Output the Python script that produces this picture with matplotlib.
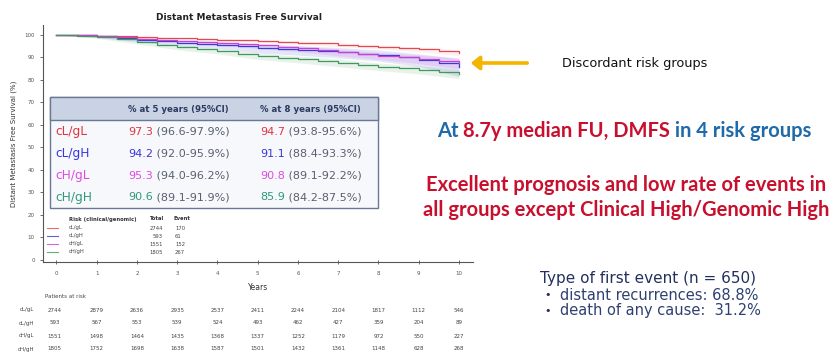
import matplotlib
matplotlib.use("Agg")
import matplotlib.pyplot as plt
from matplotlib.patches import Rectangle, FancyArrowPatch
from matplotlib.text import Annotation
from matplotlib.lines import Line2D

# ---------------- data ----------------
groups = ["cL/gL", "cL/gH", "cH/gL", "cH/gH"]
line_colors = ["#e5484d", "#3a3ad4", "#c941d2", "#3f9a5c"]
text_colors = ["#e0353c", "#3b35dc", "#e04ae0", "#2f9a78"]

years_half = [0, 0.5, 1, 1.5, 2, 2.5, 3, 3.5, 4, 4.5, 5, 5.5, 6, 6.5, 7, 7.5, 8, 8.5, 9, 9.5, 10]
surv_cLgL = [100, 99.9, 99.6, 99.4, 99.1, 98.8, 98.5, 98.2, 97.9, 97.6, 97.3, 97.0, 96.6, 96.2, 95.7, 95.2, 94.7, 94.2, 93.6, 93.0, 92.0]
surv_cLgH = [100, 99.8, 99.4, 98.7, 97.9, 97.2, 96.6, 96.1, 95.6, 94.9, 94.2, 93.8, 93.3, 92.8, 92.3, 91.7, 91.1, 90.2, 89.0, 87.6, 85.8]
surv_cHgL = [100, 99.8, 99.4, 98.9, 98.3, 97.8, 97.3, 96.9, 96.4, 95.8, 95.3, 94.7, 94.0, 93.2, 92.3, 91.5, 90.8, 90.1, 89.3, 88.5, 87.6]
surv_cHgH = [100, 99.7, 99.1, 98.0, 96.8, 95.6, 94.5, 93.6, 92.8, 91.7, 90.6, 89.9, 89.2, 88.5, 87.7, 86.8, 85.9, 85.2, 84.5, 83.7, 82.7]

years = [0, 1, 2, 3, 4, 5, 6, 7, 8, 9, 10]
ci_lo_cLgL = [100, 99.4, 98.7, 98.1, 97.4, 96.6, 95.8, 94.8, 93.8, 92.5, 90.8]
ci_hi_cLgL = [100, 99.8, 99.3, 98.9, 98.4, 97.9, 97.3, 96.6, 95.6, 94.6, 93.2]
ci_lo_cLgH = [100, 98.9, 97.0, 95.2, 94.0, 92.0, 91.0, 89.8, 88.4, 86.0, 81.5]
ci_hi_cLgH = [100, 99.7, 98.8, 97.6, 96.9, 95.9, 95.2, 94.4, 93.3, 91.6, 89.5]
ci_lo_cHgL = [100, 98.9, 97.5, 96.4, 95.3, 94.0, 92.6, 90.7, 89.1, 87.2, 85.0]
ci_hi_cHgL = [100, 99.8, 99.0, 98.1, 97.3, 96.2, 95.2, 93.7, 92.2, 91.1, 89.8]
ci_lo_cHgH = [100, 98.5, 96.0, 93.4, 91.6, 89.1, 87.6, 85.9, 84.2, 82.7, 80.6]
ci_hi_cHgH = [100, 99.4, 97.6, 95.5, 94.0, 91.9, 90.6, 89.3, 87.5, 86.3, 84.6]

rate_5y = ["97.3", "94.2", "95.3", "90.6"]
ci_5y = ["(96.6-97.9%)", "(92.0-95.9%)", "(94.0-96.2%)", "(89.1-91.9%)"]
rate_8y = ["94.7", "91.1", "90.8", "85.9"]
ci_8y = ["(93.8-95.6%)", "(88.4-93.3%)", "(89.1-92.2%)", "(84.2-87.5%)"]

totals = [2744, 593, 1551, 1805]
events = [170, 61, 152, 267]

at_risk_cLgL = [2744, 2879, 2636, 2935, 2537, 2411, 2244, 2104, 1817, 1112, 546]
at_risk_cLgH = [593, 567, 553, 539, 524, 493, 462, 427, 359, 204, 89]
at_risk_cHgL = [1551, 1498, 1464, 1435, 1368, 1337, 1252, 1179, 972, 550, 227]
at_risk_cHgH = [1805, 1752, 1698, 1638, 1587, 1501, 1432, 1361, 1148, 628, 268]

survs = [surv_cLgL, surv_cLgH, surv_cHgL, surv_cHgH]
ci_lo = [ci_lo_cLgL, ci_lo_cLgH, ci_lo_cHgL, ci_lo_cHgH]
ci_hi = [ci_hi_cLgL, ci_hi_cLgH, ci_hi_cHgL, ci_hi_cHgH]
at_risk = [at_risk_cLgL, at_risk_cLgH, at_risk_cHgL, at_risk_cHgH]
band_alpha = [0.08, 0.13, 0.13, 0.12]

# ---------------- figure ----------------
W, H = 833, 353
plt.rcParams["font.family"] = ["DejaVu Sans"]
fig = plt.figure(figsize=(W / 100, H / 100), dpi=100)
fig.patch.set_facecolor("white")


def fx(p):
    return p / W


def fy(p):
    return 1 - p / H


ax = fig.add_axes([fx(43), fy(262), fx(473) - fx(43), fy(25) - fy(262)])
ax.set_xlim(-0.335, 10.35)
ax.set_ylim(-0.9, 104.4)

for lo, hi, c, a in zip(ci_lo, ci_hi, line_colors, band_alpha):
    ax.fill_between(years, lo, hi, color=c, alpha=a, lw=0)
for s, c in zip(survs, line_colors):
    ax.step(years_half, s, where="post", color=c, lw=0.9)

for side in ("top", "right"):
    ax.spines[side].set_visible(False)
for side in ("left", "bottom"):
    ax.spines[side].set_color("#555555")
    ax.spines[side].set_linewidth(0.8)
ax.set_xticks(years)
ax.set_yticks(range(0, 101, 10))
ax.tick_params(axis="both", labelsize=4, colors="#555555", length=2.5, width=0.6)
ax.tick_params(axis="x", direction="inout", pad=5)
ax.set_xlabel("Years", fontsize=5.5, color="#333333", labelpad=5)
ax.set_ylabel("Distant Metastasis Free Survival (%)", fontsize=5, color="#333333", labelpad=5)

fig.text(fx(239), fy(17), "Distant Metastasis Free Survival", ha="center", va="center",
         fontsize=6.5, fontweight="bold", color="#222222")

# in-plot legend with totals and events
fig.text(fx(69), fy(219), "Risk (clinical/genomic)", fontsize=3.8, fontweight="bold",
         ha="left", va="center", color="#333333")
fig.text(fx(163), fy(219), "Total", fontsize=3.8, fontweight="bold", ha="right", va="center", color="#333333")
fig.text(fx(173), fy(219), "Event", fontsize=3.8, fontweight="bold", ha="left", va="center", color="#333333")
for i, (g, c) in enumerate(zip(groups, line_colors)):
    yy = 228 + i * 8
    fig.add_artist(Line2D([fx(47), fx(58)], [fy(yy), fy(yy)], color=c, lw=0.8, alpha=0.8))
    fig.text(fx(69), fy(yy), g, fontsize=3.8, ha="left", va="center", color="#444444")
    fig.text(fx(163), fy(yy), str(totals[i]), fontsize=3.8, ha="right", va="center", color="#444444")
    fig.text(fx(175), fy(yy), str(events[i]), fontsize=3.8, ha="left", va="center", color="#444444")

# summary table over the plot
fig.add_artist(Rectangle((fx(50), fy(208)), fx(378) - fx(50), fy(97) - fy(208),
                         transform=fig.transFigure, facecolor="#f6f8fc", edgecolor="#6a7895", lw=1.0))
fig.add_artist(Rectangle((fx(50), fy(120)), fx(378) - fx(50), fy(97) - fy(120),
                         transform=fig.transFigure, facecolor="#c9d3e3", edgecolor="#6a7895", lw=1.0))
fig.text(fx(128), fy(109), "% at 5 years (95%CI)", fontsize=6.2, fontweight="bold",
         ha="left", va="center", color="#2b3a63")
fig.text(fx(260), fy(109), "% at 8 years (95%CI)", fontsize=6.2, fontweight="bold",
         ha="left", va="center", color="#2b3a63")


def chain(x, y, parts, **kw):
    first, col = parts[0]
    prev = fig.text(fx(x), fy(y), first, color=col, ha="left", va="center", **kw)
    for s, c in parts[1:]:
        a = Annotation(s, xy=(1, 0), xycoords=prev, ha="left", va="bottom", color=c, **kw)
        fig.add_artist(a)
        prev = a
    return prev


row_y = [132, 154, 176, 197]
for i in range(4):
    fig.text(fx(55), fy(row_y[i]), groups[i], fontsize=8.7, color=text_colors[i], ha="left", va="center")
    chain(128, row_y[i], [(rate_5y[i], text_colors[i]), (" " + ci_5y[i], "#5a6070")], fontsize=8)
    chain(260, row_y[i], [(rate_8y[i], text_colors[i]), (" " + ci_8y[i], "#5a6070")], fontsize=8)

# patients at risk
fig.text(fx(45), fy(297), "Patients at risk", fontsize=4, ha="left", va="center", color="#444444")
risk_y = [310, 323, 336, 349]
for i in range(4):
    fig.text(fx(34), fy(risk_y[i]), groups[i], fontsize=4, ha="right", va="center", color="#444444")
    for t, n in zip(years, at_risk[i]):
        xp = ax.transData.transform((t, 0))[0]
        fig.text(xp / fig.dpi / fig.get_figwidth() - (0.0025 if t == 0 else 0), fy(risk_y[i]), str(n),
                 fontsize=4, ha="center", va="center", color="#444444")

# annotations on the right
fig.add_artist(FancyArrowPatch((fx(530), fy(63)), (fx(468), fy(63)), transform=fig.transFigure,
                               arrowstyle="-|>,head_length=5,head_width=4", mutation_scale=1,
                               color="#f4b400", lw=2.6))
fig.text(fx(562), fy(63), "Discordant risk groups", fontsize=9.3, ha="left", va="center", color="#111111")

blue_txt = "#1f6aa8"
red_txt = "#c8102e"
big = dict(fontsize=14.5, fontweight="bold", family=["Lato", "DejaVu Sans"])
chain(437, 131, [("At ", blue_txt), ("8.7y median FU, DMFS", red_txt), (" in 4 risk groups", blue_txt)], **big)
fig.text(fx(626), fy(185), "Excellent prognosis and low rate of events in", color=red_txt,
         ha="center", va="center", **big)
fig.text(fx(626), fy(210), "all groups except Clinical High/Genomic High", color=red_txt,
         ha="center", va="center", **big)

navy = "#22305e"
fig.text(fx(540), fy(278), "Type of first event (n = 650)", fontsize=11, color=navy, ha="left", va="center")
fig.text(fx(544), fy(295), "\u2022", fontsize=8, color=navy, ha="left", va="center")
fig.text(fx(560), fy(295), "distant recurrences: 68.8%", fontsize=10.5, color="#2e4170", ha="left", va="center")
fig.text(fx(544), fy(311), "\u2022", fontsize=8, color=navy, ha="left", va="center")
fig.text(fx(560), fy(311), "death of any cause:  31.2%", fontsize=10.5, color="#2e4170", ha="left", va="center")

fig.savefig("out.png", dpi=100, facecolor="white")
